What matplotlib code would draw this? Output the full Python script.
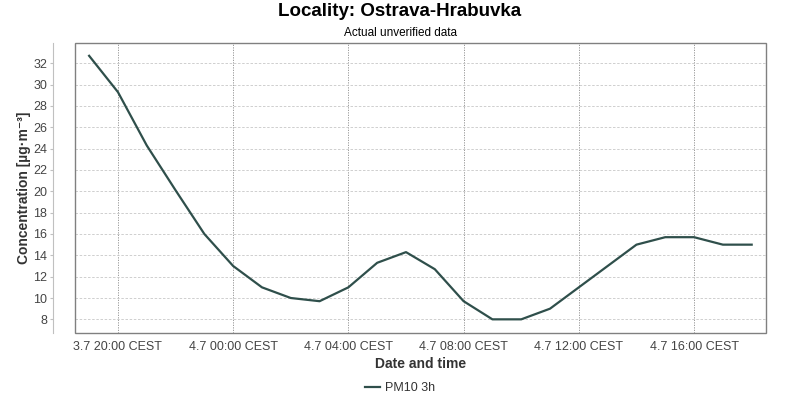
import datetime
import matplotlib
matplotlib.use("Agg")
import matplotlib.pyplot as plt
import matplotlib.dates as mdates
from matplotlib.patches import Rectangle
from matplotlib.ticker import FuncFormatter

plt.rcParams['font.family'] = ['Liberation Sans', 'DejaVu Sans']

TITLE = "Locality: Ostrava-Hrabuvka"
SUBTITLE = "Actual unverified data"
SERIES_LABEL = "PM10 3h"

START = datetime.datetime(2024, 7, 3, 19, 0)
PM10 = [32.7, 29.3, 24.3, 20.1, 16.0, 13.0, 11.0, 10.0, 9.7, 11.0, 13.3, 14.3,
        12.7, 9.7, 8.0, 8.0, 9.0, 11.0, 13.0, 15.0, 15.7, 15.7, 15.0, 15.0]
TIMES = [START + datetime.timedelta(hours=i) for i in range(len(PM10))]

LINE_COLOR = '#2f4f4b'

fig = plt.figure(figsize=(8, 4), dpi=100)
ax = fig.add_axes([0.094, 0.1675, 0.863, 0.725])

ax.plot(TIMES, PM10, color=LINE_COLOR, linewidth=1.6, label=SERIES_LABEL,
        solid_joinstyle='round', zorder=5)

ax.set_ylim(6.72, 33.9)
ax.set_xlim(datetime.datetime(2024, 7, 3, 18, 31), datetime.datetime(2024, 7, 4, 18, 29))
ax.set_yticks(range(8, 33, 2))
ax.xaxis.set_major_locator(mdates.HourLocator(byhour=[0, 4, 8, 12, 16, 20]))
ax.xaxis.set_major_formatter(FuncFormatter(
    lambda v, pos: (lambda d: f"{d.day}.{d.month} {d:%H:%M} CEST")(mdates.num2date(v))))

ax.grid(axis='y', color='#c8c8c8', linestyle=(0, (3, 2)), linewidth=0.6)
ax.grid(axis='x', color='#8c8c8c', linestyle=(0, (1.5, 1.5)), linewidth=0.6)

for s in ['top', 'right', 'bottom']:
    ax.spines[s].set_visible(False)
ax.spines['left'].set_position(('outward', 16))
ax.spines['left'].set_color('#c0c0c0')
ax.add_patch(Rectangle((0, 0), 1, 1, transform=ax.transAxes, fill=False,
                       edgecolor='#808080', linewidth=1.0, zorder=6, clip_on=False))

ax.tick_params(axis='y', length=2, color='#c0c0c0', labelsize=9, labelcolor='#444444', pad=2)
ax.tick_params(axis='x', length=0, labelsize=9, labelcolor='#444444', pad=6)

ax.set_ylabel("Concentration [µg·m⁻³]", fontsize=10, fontweight='bold', color='#333333', labelpad=2)
ax.set_xlabel("Date and time", fontsize=10, fontweight='bold', color='#333333', labelpad=3)

fig.text(0.5, 0.992, TITLE, ha='center', va='top', fontsize=13.5, fontweight='bold')
fig.text(0.5, 0.932, SUBTITLE, ha='center', va='top', fontsize=8.5)

fig.legend(loc='center', bbox_to_anchor=(0.5, 0.03), frameon=False, fontsize=9,
           handlelength=1.2, handletextpad=0.4, labelcolor='#333333')

fig.savefig("out.png", dpi=100)
